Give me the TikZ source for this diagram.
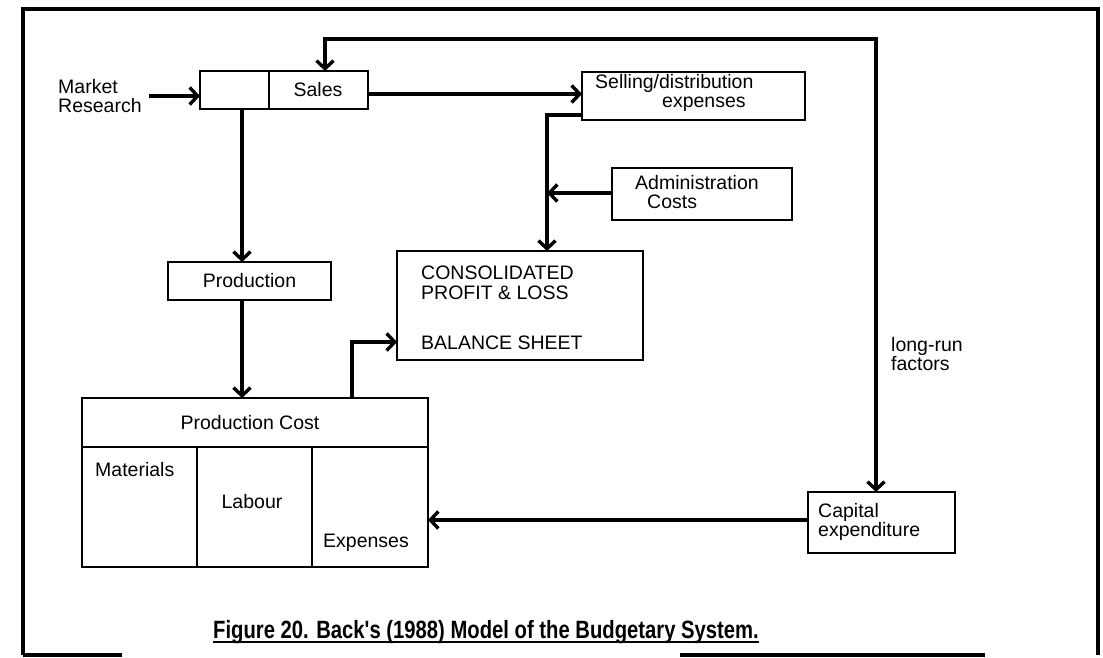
\documentclass[tikz,border=0pt]{standalone}
\usepackage{fontspec}
\setmainfont{Liberation Sans}
\newfontfamily\captionfont[FakeStretch=0.81]{Liberation Sans}
\usetikzlibrary{arrows.meta}
\begin{document}
\begin{tikzpicture}[x=1pt,y=-1pt,
  frame/.style={line width=3.4pt},
  box/.style={draw, line width=2.2pt, inner sep=0pt, outer sep=0pt, anchor=north west},
  tip/.tip={Straight Barb[length=8pt,width=17pt]},
  conn/.style={line width=3.4pt, -tip},
  lbl/.style={inner sep=0pt, font=\fontsize{19.5}{22}\selectfont},
]
\useasboundingbox (0,0) rectangle (1103,658);
\fill[white] (0,0) rectangle (1103,658);

% outer frame (the bottom edge is only partly printed)
\draw[frame] (23,655) -- (23,9) -- (1098,9) -- (1098,655);
\draw[frame] (23,655) -- (122,655);
\draw[frame] (680,655) -- (985,655);

% boxes
\node[box, minimum width=69pt, minimum height=38pt] (salesL) at (200,71) {};
\node[box, minimum width=99pt, minimum height=38pt] (sales) at (269,71) {};
\node[box, minimum width=223pt, minimum height=48pt] (sell) at (582,72) {};
\node[box, minimum width=180pt, minimum height=52pt] (admin) at (612,168) {};
\node[box, minimum width=246pt, minimum height=109pt] (cons) at (397,251) {};
\node[box, minimum width=163pt, minimum height=38pt] (prod) at (168,262) {};
\node[box, minimum width=346pt, minimum height=49pt] (pchead) at (82,398) {};
\node[box, minimum width=115pt, minimum height=120pt] (pcmat) at (82,447) {};
\node[box, minimum width=115pt, minimum height=120pt] (pclab) at (197,447) {};
\node[box, minimum width=116pt, minimum height=120pt] (pcexp) at (312,447) {};
\node[box, minimum width=147pt, minimum height=61pt] (capex) at (808,492) {};

% texts
\node[lbl, anchor=west, align=left] (mr) at (58,96) {Market\\[-3pt]Research};
\node[lbl] at (318,90) {Sales};
\node[lbl, anchor=west, align=left] at (595,93) {Selling/distribution\\[-3pt]\hspace*{67pt}expenses};
\node[lbl, anchor=west, align=left] at (635,192) {Administration\\[-3pt]\hspace*{12pt}Costs};
\node[lbl, anchor=west] at (421,273) {CONSOLIDATED};
\node[lbl, anchor=west] at (421,293) {PROFIT \& LOSS};
\node[lbl, anchor=west] at (421,343) {BALANCE SHEET};
\node[lbl] at (prod) {Production};
\node[lbl] at (250,423) {Production Cost};
\node[lbl, anchor=west] at (95,470) {Materials};
\node[lbl] at (252,502) {Labour};
\node[lbl, anchor=west] at (323,543) {Expenses};
\node[lbl, anchor=west, align=left] at (818,522) {Capital\\[-3pt]expenditure};
\node[lbl, anchor=west, align=left] at (891,354) {long-run\\[-3pt]factors};

% connector routing points
\coordinate (salesx) at (325,0);
\coordinate (loopy) at (0,39);
\coordinate (capx) at (876,0);
\coordinate (prodx) at (242,0);
\coordinate (consx) at (547,0);
\coordinate (sellout) at (0,115);
\coordinate (pcx) at (352,0);
\coordinate (consin) at (0,342);

% connectors
\draw[conn] ([xshift=7pt]mr.east) -- (salesL.west |- mr.east);
\draw[conn, tip-tip]
  (sales.north -| salesx) -- (salesx |- loopy) -- (capx |- loopy) -- (capex.north -| capx);
\draw[conn] (sales.east |- 0,94) -- (sell.west |- 0,94);
\draw[conn] (sell.west |- sellout) -- (consx |- sellout) -- (cons.north -| consx);
\draw[conn] (admin.west |- 0,193) -- (consx |- 0,193);
\draw[conn] (salesL.south -| prodx) -- (prod.north -| prodx);
\draw[conn] (prod.south -| prodx) -- (pchead.north -| prodx);
\draw[conn] (pchead.north -| pcx) -- (pcx |- consin) -- (cons.west |- consin);
\draw[conn] (capex.west |- 0,520) -- (pcexp.east |- 0,520);

% caption
\node[inner sep=0pt, anchor=base, font=\captionfont\bfseries\fontsize{25}{28}\selectfont] (cap) at (486,638)
  {Figure 20. Back's (1988) Model of the Budgetary System.};
\draw[line width=2.4pt] ([yshift=-4pt]cap.base west) -- ([yshift=-4pt]cap.base east);
\end{tikzpicture}
\end{document}
